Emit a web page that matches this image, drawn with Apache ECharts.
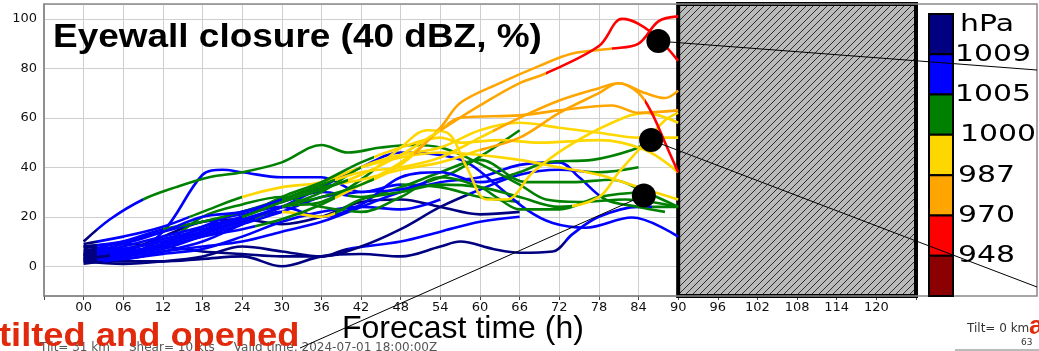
<!DOCTYPE html>
<html>
<head>
<meta charset="utf-8">
<script src="https://cdn.jsdelivr.net/npm/echarts@6/dist/echarts.min.js"></script>
<style>
  html, body { margin: 0; padding: 0; background: #fff; }
  #chart { width: 1039px; height: 351px; }
</style>
</head>
<body>
<div id="chart"></div>
<script>
// ensemble members: [forecast hour, eyewall closure %]
const m01 = [[0,4],[6,8],[12,12],[18,16],[24,20],[30,26],[36,31],[42,37],[48,45],[54,55],[60,65],[66,74],[70,78],[78,89],[81.5,100],[84,98],[87,92],[90,83]]
const m02 = [[0,7],[6,6],[12,9],[18,13],[24,18],[30,24],[36,28],[42,33],[48,41],[54,56],[57,66],[63,74],[69,81],[74,86],[80,88],[84,90],[87,99],[90,101]]
const m03 = [[0,5],[6,9],[12,14],[18,20],[24,22],[30,27],[36,33],[42,38],[48,40],[54,44],[60,52],[66,60],[72,67],[78,72],[81,74],[84,70],[86,62],[88,50],[90,38]]
const m04 = [[0,3],[6,5],[12,7],[18,12],[24,15],[30,19],[36,25],[42,33],[48,42],[54,55],[57,60],[66,61],[72,63],[80,65],[84,62],[90,63]]
const m05 = [[0,6],[6,10],[12,15],[18,18],[24,22],[30,27],[36,32],[42,35],[48,39],[54,42],[60,47],[66,52],[72,62],[78,70],[81,74],[85,70],[88,68],[90,71]]
const m06 = [[0,8],[6,7],[12,11],[18,15],[24,20],[30,28],[36,34],[42,42],[48,48],[54,52],[57,50],[63,51],[69,50],[78,51],[85,47],[90,38]]
const m07 = [[0,5],[6,3],[12,6],[18,10],[24,17],[30,24],[36,26],[42,35],[48,48],[52,55],[55,54],[58,40],[61,27],[64,27],[68,38],[73,48],[80,58],[85,62],[90,58]]
const m08 = [[0,2],[6,4],[12,8],[18,14],[24,18],[30,22],[36,20],[42,27],[48,30],[54,33],[60,32],[66,28],[72,24],[78,28],[81,38],[84,47],[88,59],[90,62]]
const m09 = [[0,9],[6,12],[12,16],[18,22],[24,28],[30,32],[36,34],[42,40],[48,44],[54,46],[60,45],[66,43],[72,40],[78,37],[84,32],[90,27]]
const m10 = [[0,4],[6,7],[12,10],[18,14],[24,19],[30,24],[36,30],[42,40],[48,45],[54,48],[60,55],[66,58],[72,56],[78,54],[84,52],[90,52]]
const m11 = [[0,10],[4,19],[9,27],[14,32],[19,36],[24,38],[30,42],[36,49],[40,46],[45,48],[50,49],[54,48],[58,44],[66,33],[70,27],[75,26],[82,27],[90,24]]
const m12 = [[0,3],[6,6],[12,9],[18,20],[24,25],[30,28],[36,24],[42,22],[48,28],[54,36],[60,32],[63,27],[66,23],[72,23],[78,28],[85,30]]
const m13 = [[0,6],[6,5],[12,9],[18,16],[24,22],[30,26],[36,30],[42,28],[48,32],[54,38],[60,43],[67,34],[74,34],[80,35],[85,30],[90,24]]
const m14 = [[0,2],[6,5],[12,8],[18,12],[24,17],[30,22],[36,28],[42,30],[48,31],[53,35],[56,38],[61,46],[66,55]]
const m15 = [[0,8],[6,10],[12,14],[18,18],[24,21],[30,24],[36,20],[42,25],[48,36],[54,38],[60,34],[66,38],[70,42],[77,43],[83,47],[86,51]]
const m16 = [[0,5],[6,7],[12,10],[18,14],[24,18],[30,24],[36,32],[42,40],[48,46],[54,45],[58,42],[62,34],[67,23],[71,17.5],[76,15.6],[83,19.7],[90,12]]
const m17 = [[0,3],[6,4],[12,6],[18,8],[24,10],[30,14],[36,18],[42,24],[48,30],[54,34],[60,36],[66,41],[72,42],[75,36],[79,27],[84,24],[88,22]]
const m18 = [[0,3],[6,2],[12,2],[18,3],[24,4],[30,0],[36,4],[42,5],[48,4],[54,8],[57,10],[62,7],[66,5.5],[71,6],[74,13],[78,20],[84,24],[90,24]]
const m19 = [[0,8],[6,9],[12,8],[18,6],[24,5],[30,4],[36,4],[42,8],[48,15],[54,24],[60,31],[66,37],[72,39],[78,38],[84,40]]
const m20 = [[0,4],[6,6],[12,12],[18,18],[24,19],[30,17],[36,20],[42,26],[48,27],[54,24],[60,21],[66,22]]
const m21 = [[0,2],[6,1],[12,2],[18,4],[24,8],[30,6],[36,4],[40,7],[48,10],[54,14],[60,18],[66,20]]
const m22 = [[0,5],[6,4],[12,14],[18,37],[21,39],[24,38],[30,36],[36,36],[42,30],[48,33],[54,32],[60,28],[66,26]]
const m23 = [[0,1],[6,3],[12,5],[18,7],[24,12],[30,18],[36,22],[42,24],[48,23],[54,27]]

const members = [m18, m21, m20, m19, m23, m22, m16, m17, m12, m13, m14, m15, m11,
                 m08, m09, m06, m07, m10, m04, m05, m03, m02, m01]

// pressure class of each member from a given hour on
const memberClasses = [
  [[0,'N'],[73,'B'],[86,'G']],
  [[0,'N'],[40,'B']],
  [[0,'N']],
  [[0,'N'],[58,'B'],[76,'G']],
  [[0,'N'],[3,'B']],
  [[0,'N'],[4,'B'],[48,'G']],
  [[0,'N'],[2,'B']],
  [[0,'N'],[2,'B'],[78,'G']],
  [[0,'N'],[2,'B'],[14,'G']],
  [[0,'N'],[2,'B'],[40,'G']],
  [[0,'N'],[2,'B'],[52,'G']],
  [[0,'N'],[2,'B'],[64,'G']],
  [[0,'N'],[2,'B'],[9,'G']],
  [[0,'N'],[2,'B'],[30,'Y'],[38,'G'],[74,'Y']],
  [[0,'N'],[2,'B'],[16,'G'],[24,'Y']],
  [[0,'N'],[2,'B'],[28,'G'],[44,'Y']],
  [[0,'N'],[2,'B'],[26,'G'],[44,'Y']],
  [[0,'N'],[2,'B'],[30,'G'],[42,'Y']],
  [[0,'N'],[4,'B'],[26,'G'],[38,'Y'],[55,'O']],
  [[0,'N'],[2,'B'],[12,'G'],[38,'Y'],[60,'O']],
  [[0,'N'],[2,'B'],[30,'G'],[38,'Y'],[62,'O'],[85,'R']],
  [[0,'N'],[2,'B'],[30,'G'],[44,'Y'],[50,'O'],[80,'R']],
  [[0,'N'],[2,'B'],[24,'G'],[40,'Y'],[54,'O'],[70,'R']]
]

const classColors = { N: '#000080', B: '#0000ff', G: '#008000', Y: '#ffd700', O: '#ffa500', R: '#ff0000', D: '#8b0000' }
const colorbarClasses = ['N', 'B', 'G', 'Y', 'O', 'R', 'D']
const pressureLabels = ['1009', '1005', '1000', '987', '970', '948']

// closure points marked with black dots
const closureDots = [[87, 91], [85.9, 51], [84.8, 28.6]]

const hourTicks = { min: -6, max: 126, step: 6, lastLabel: 120 }
const maskedHours = [90, 126]

function hatchPattern() {
  const c = document.createElement('canvas')
  c.width = 7
  c.height = 7
  const g = c.getContext('2d')
  g.fillStyle = '#bababa'
  g.fillRect(0, 0, 7, 7)
  g.strokeStyle = '#1e1e1e'
  g.lineWidth = 0.9
  g.beginPath()
  g.moveTo(0, 7); g.lineTo(7, 0)
  g.moveTo(-1, 1); g.lineTo(1, -1)
  g.moveTo(6, 8); g.lineTo(8, 6)
  g.stroke()
  return c
}

const chart = echarts.init(document.getElementById('chart'))

const series = members.map((m) => ({
  type: 'line',
  data: m,
  smooth: 0.35,
  symbol: 'none',
  silent: true,
  lineStyle: { width: 2.6 },
  z: 2
}))

const visualMaps = memberClasses.map((cls, i) => ({
  type: 'piecewise',
  show: false,
  dimension: 0,
  seriesIndex: i,
  pieces: cls.map((c, k) => ({
    gte: k === 0 ? -20 : c[0],
    lt: k === cls.length - 1 ? 200 : cls[k + 1][0],
    color: classColors[c[1]]
  }))
}))

series.push({
  type: 'line',
  data: [],
  z: 5,
  markArea: {
    silent: true,
    itemStyle: {
      color: { image: hatchPattern(), repeat: 'repeat' },
      borderColor: '#000',
      borderWidth: 4
    },
    data: [[{ xAxis: maskedHours[0] }, { xAxis: maskedHours[1] }]]
  }
})

series.push({
  type: 'scatter',
  data: closureDots,
  symbolSize: 24,
  silent: true,
  itemStyle: { color: '#000', opacity: 1 },
  z: 10
})

const option = {
  animation: false,
  backgroundColor: '#fff',
  grid: { left: 44, top: 4, width: 872, height: 292 },
  xAxis: {
    type: 'value',
    min: hourTicks.min,
    max: hourTicks.max,
    interval: hourTicks.step,
    axisLine: { onZero: false, lineStyle: { color: '#888', width: 1.5 } },
    axisTick: { show: true, length: 4, lineStyle: { color: '#444' } },
    axisLabel: {
      margin: 5,
      color: '#111',
      fontFamily: 'DejaVu Sans',
      fontSize: 13,
      formatter: (v) => (v >= 0 && v <= hourTicks.lastLabel ? String(v).padStart(2, '0') : '')
    },
    splitLine: { show: true, lineStyle: { color: '#cfcfcf', width: 1 } }
  },
  yAxis: {
    type: 'value',
    min: -12,
    max: 106,
    axisLine: { show: true, onZero: false, lineStyle: { color: '#888', width: 1.5 } },
    axisTick: { show: false },
    axisLabel: {
      margin: 7,
      color: '#111',
      fontFamily: 'DejaVu Sans',
      fontSize: 13,
      formatter: (v) => (v >= 0 && v % 20 === 0 ? String(v) : '')
    },
    splitLine: { show: true, lineStyle: { color: '#cfcfcf', width: 1 } }
  },
  visualMap: visualMaps,
  series: series
}

chart.setOption(option)

// static decorations: frame, title, colour bar, bottom texts, leader lines
const graphic = []
graphic.push({
  type: 'rect', z: 1, silent: true,
  shape: { x: 44, y: 4, width: 993, height: 292 },
  style: { fill: null, stroke: '#8a8a8a', lineWidth: 1.5 }
})
graphic.push({
  type: 'text', x: 53, y: 38, z: 20, silent: true, scaleX: 1.12,
  style: {
    text: 'Eyewall closure (40 dBZ, %)', x: 0, y: 0,
    fill: '#000', font: 'bold 33px "Liberation Sans", Arial, sans-serif',
    verticalAlign: 'middle'
  }
})
const cbTop = 14, cbBottom = 296, cbStep = (cbBottom - cbTop) / colorbarClasses.length
colorbarClasses.forEach((c, k) => {
  graphic.push({
    type: 'rect', z: 20, silent: true,
    shape: { x: 929, y: cbTop + k * cbStep, width: 24, height: cbStep },
    style: { fill: classColors[c], stroke: '#000', lineWidth: 2 }
  })
})
const labelX = [955, 955, 960, 958, 958, 958]
graphic.push({
  type: 'text', x: 960, y: 25, z: 20, silent: true, scaleX: 1.3,
  style: { text: 'hPa', x: 0, y: 0, fill: '#000', font: '23px "DejaVu Sans"', verticalAlign: 'middle' }
})
pressureLabels.forEach((p, k) => {
  graphic.push({
    type: 'text', x: labelX[k], y: cbTop + (k + 1) * cbStep + 0.5, z: 20, silent: true, scaleX: 1.3,
    style: { text: p, x: 0, y: 0, fill: '#000', font: '23px "DejaVu Sans"', verticalAlign: 'middle' }
  })
})
graphic.push({
  type: 'text', x: 342, y: 329, z: 20, silent: true,
  style: { text: 'Forecast time (h)', x: 0, y: 0, fill: '#000', font: '32px "Liberation Sans", Arial, sans-serif', verticalAlign: 'middle' }
})
graphic.push({
  type: 'text', x: 40, y: 348, z: 18, silent: true,
  style: {
    text: 'Tilt= 31 km     Shear= 10 kts     Valid time: 2024-07-01 18:00:00Z', x: 0, y: 0,
    fill: '#555', font: '12px "DejaVu Sans"', verticalAlign: 'middle'
  }
})
graphic.push({
  type: 'text', x: -1, y: 337, z: 22, silent: true, scaleX: 1.1,
  style: { text: 'tilted and opened', x: 0, y: 0, fill: '#e12a0c', font: 'bold 33px "Liberation Sans", Arial, sans-serif', verticalAlign: 'middle' }
})
graphic.push({
  type: 'text', x: 967, y: 329, z: 20, silent: true,
  style: { text: 'Tilt= 0 km', x: 0, y: 0, fill: '#333', font: '12px "DejaVu Sans"', verticalAlign: 'middle' }
})
graphic.push({
  type: 'text', x: 1029, y: 327, z: 21, silent: true,
  style: { text: 'a', x: 0, y: 0, fill: '#e12a0c', font: 'bold 26px "Liberation Sans", Arial, sans-serif', verticalAlign: 'middle' }
})
graphic.push({
  type: 'text', x: 1021, y: 343, z: 20, silent: true,
  style: { text: '63', x: 0, y: 0, fill: '#333', font: '9px "DejaVu Sans"', verticalAlign: 'middle' }
})
graphic.push({
  type: 'line', z: 20, silent: true,
  shape: { x1: 955, y1: 350, x2: 1039, y2: 350 },
  style: { stroke: '#777', lineWidth: 1 }
})
const leaderEnds = [[1037, 70], [1037, 287], [300, 348]]
closureDots.forEach((d, k) => {
  const p = chart.convertToPixel({ gridIndex: 0 }, d)
  graphic.push({
    type: 'line', z: 30, silent: true,
    shape: { x1: p[0], y1: p[1], x2: leaderEnds[k][0], y2: leaderEnds[k][1] },
    style: { stroke: '#000', lineWidth: 1 }
  })
})
chart.setOption({ graphic: graphic })
</script>
</body>
</html>
